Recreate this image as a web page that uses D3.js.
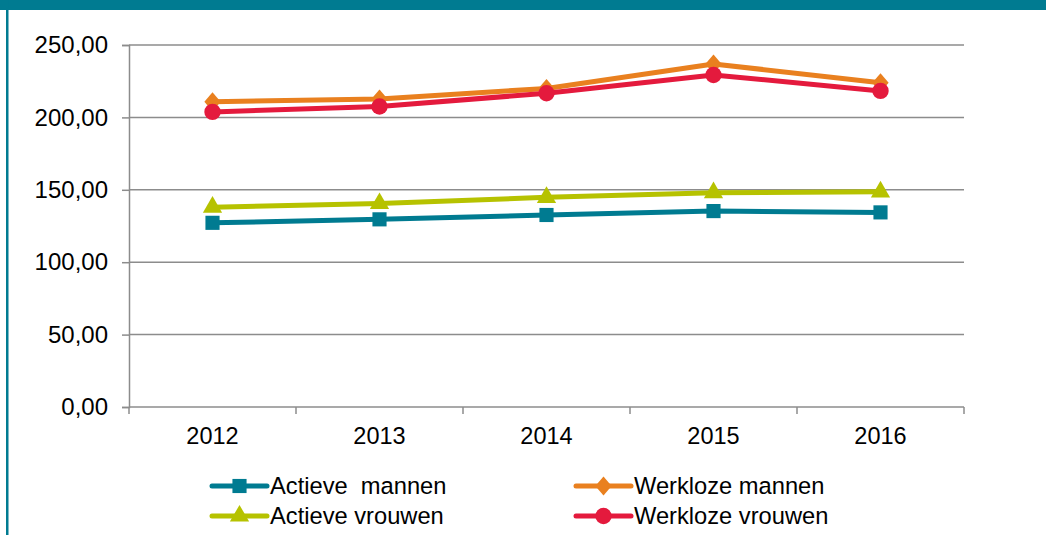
<!DOCTYPE html>
<html>
<head>
<meta charset="utf-8">
<script src="https://cdnjs.cloudflare.com/ajax/libs/d3/7.8.5/d3.min.js"></script>
<style>
  body { margin: 0; background: #fff; }
  svg { display: block; font-family: "Liberation Sans", Arial, sans-serif; }
</style>
</head>
<body>
<div id="main"></div>
<script>
var years = ["2012", "2013", "2014", "2015", "2016"];
var actieveMannen = [127.2, 129.6, 132.6, 135.3, 134.4];
var werklozeMannen = [210.8, 212.7, 220.0, 236.9, 224.0];
var actieveVrouwen = [138.0, 140.5, 144.8, 148.0, 148.6];
var werklozeVrouwen = [203.8, 207.5, 216.7, 229.3, 218.3];
var yTicks = [0, 50, 100, 150, 200, 250];

var series = [
  { name: "Actieve  mannen", values: actieveMannen, color: "#007b91", shape: "square" },
  { name: "Werkloze mannen", values: werklozeMannen, color: "#e9801f", shape: "diamond" },
  { name: "Actieve vrouwen", values: actieveVrouwen, color: "#b6c200", shape: "triangle" },
  { name: "Werkloze vrouwen", values: werklozeVrouwen, color: "#e41a3d", shape: "circle" }
];

var W = 1046, H = 535;
var margin = { top: 45, left: 129, right: 82, bottom: 128 };

var svg = d3.select("#main").append("svg")
  .attr("width", W)
  .attr("height", H);

// frame: teal top band and left edge
svg.append("rect").attr("x", 0).attr("y", 0).attr("width", W).attr("height", 10).attr("fill", "#007b91");
svg.append("rect").attr("x", 6).attr("y", 0).attr("width", 2.5).attr("height", H).attr("fill", "#007b91");

var x = d3.scaleBand()
  .domain(years)
  .range([margin.left, W - margin.right]);

var y = d3.scaleLinear()
  .domain([0, 250])
  .range([H - margin.bottom, margin.top]);

var fmt = function(d) { return d3.format(".2f")(d).replace(".", ","); };

// grid lines
svg.append("g")
  .selectAll("line")
  .data(yTicks.filter(function(d) { return d > 0; }))
  .enter().append("line")
  .attr("x1", margin.left)
  .attr("x2", W - margin.right)
  .attr("y1", function(d) { return y(d); })
  .attr("y2", function(d) { return y(d); })
  .attr("stroke", "#8c8c8c")
  .attr("stroke-width", 1.5);

// y axis
var yAxis = svg.append("g")
  .attr("transform", "translate(" + margin.left + ",0)")
  .call(d3.axisLeft(y).tickValues(yTicks).tickFormat(fmt).tickSize(7).tickPadding(14));
yAxis.attr("font-size", null).attr("font-family", null);
yAxis.select(".domain").attr("stroke", "#8c8c8c").attr("stroke-width", 1.5);
yAxis.selectAll(".tick line").attr("stroke", "#8c8c8c").attr("stroke-width", 1.5);
yAxis.selectAll("text").style("font-size", "24px").attr("fill", "#000");

// x axis (ticks at category boundaries)
var xAxis = svg.append("g")
  .attr("transform", "translate(0," + y(0) + ")");
xAxis.append("line")
  .attr("x1", margin.left).attr("x2", W - margin.right)
  .attr("stroke", "#8c8c8c").attr("stroke-width", 1.5);
var bounds = years.map(function(d) { return x(d); }).concat([x(years[years.length - 1]) + x.bandwidth()]);
xAxis.selectAll(".xt")
  .data(bounds)
  .enter().append("line")
  .attr("x1", function(d) { return d; })
  .attr("x2", function(d) { return d; })
  .attr("y1", 0).attr("y2", 7)
  .attr("stroke", "#8c8c8c").attr("stroke-width", 1.5);
xAxis.selectAll(".xl")
  .data(years)
  .enter().append("text")
  .attr("x", function(d) { return x(d) + x.bandwidth() / 2; })
  .attr("y", 37)
  .attr("text-anchor", "middle")
  .style("font-size", "23.5px")
  .text(function(d) { return d; });

var line = d3.line()
  .x(function(d, i) { return x(years[i]) + x.bandwidth() / 2; })
  .y(function(d) { return y(d); });

var symbolType = {
  square: d3.symbolSquare,
  diamond: d3.symbolDiamond,
  triangle: d3.symbolTriangle,
  circle: d3.symbolCircle
};
var symbolSize = { square: 200, diamond: 160, triangle: 160, circle: 210 };

function drawMarker(g, s, cx, cy) {
  var sym = d3.symbol().type(symbolType[s.shape]).size(symbolSize[s.shape]);
  g.append("path")
    .attr("d", sym())
    .attr("transform", "translate(" + cx + "," + cy + ")" + (s.shape === "diamond" ? " scale(1.2,0.8)" : ""))
    .attr("fill", s.color);
}

series.forEach(function(s) {
  var g = svg.append("g");
  g.append("path")
    .datum(s.values)
    .attr("d", line)
    .attr("fill", "none")
    .attr("stroke", s.color)
    .attr("stroke-width", 5)
    .attr("stroke-linejoin", "round");
  s.values.forEach(function(v, i) {
    drawMarker(g, s, x(years[i]) + x.bandwidth() / 2, y(v));
  });
});

// legend
var legendPos = [
  { x: 212, y: 486 }, { x: 576, y: 486 },
  { x: 212, y: 516 }, { x: 576, y: 516 }
];
series.forEach(function(s, i) {
  var p = legendPos[i];
  var g = svg.append("g").attr("transform", "translate(" + p.x + "," + p.y + ")");
  g.append("line")
    .attr("x1", 0).attr("x2", 55)
    .attr("stroke", s.color).attr("stroke-width", 5).attr("stroke-linecap", "round");
  drawMarker(g, s, 27.5, 0);
  g.append("text")
    .attr("x", 58)
    .attr("y", 8)
    .style("font-size", "23.7px")
    .attr("fill", "#000")
    .attr("xml:space", "preserve")
    .style("white-space", "pre")
    .text(s.name);
});
</script>
</body>
</html>
